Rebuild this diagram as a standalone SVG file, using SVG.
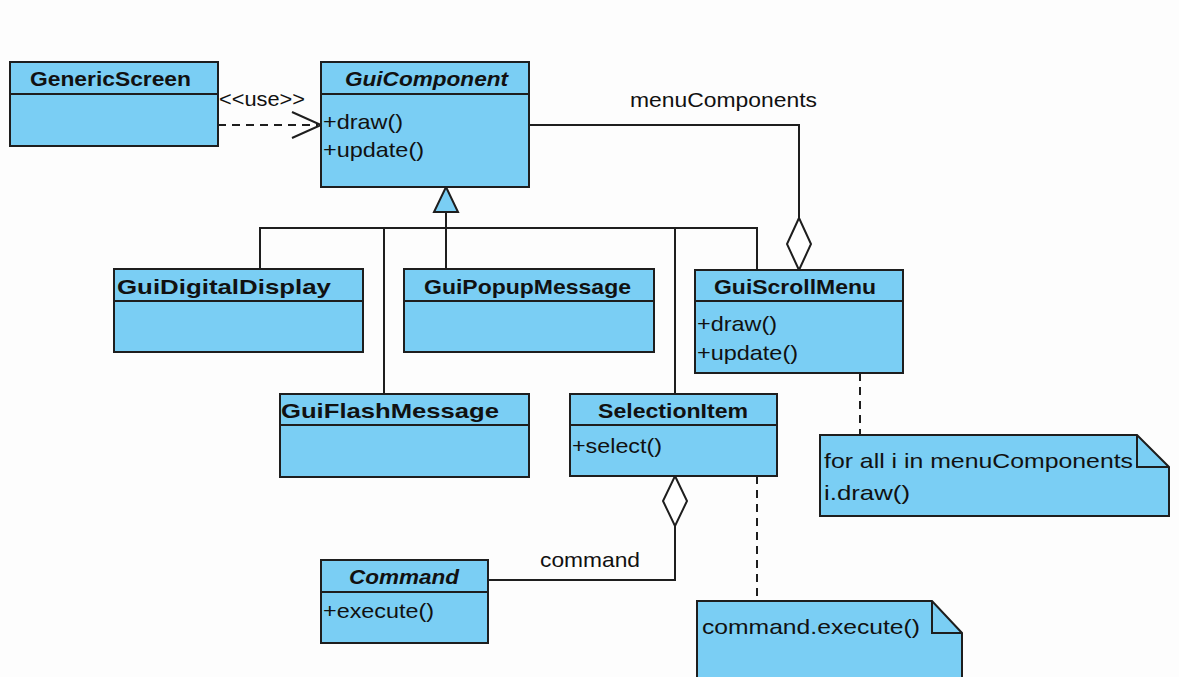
<svg xmlns="http://www.w3.org/2000/svg" width="1179" height="677" viewBox="0 0 1179 677">
<style>
.box{fill:#7acef4;stroke:#1e1e1e;stroke-width:2}
.ln{fill:none;stroke:#1e1e1e;stroke-width:2}
.dash{fill:none;stroke:#1e1e1e;stroke-width:2;stroke-dasharray:8 6}
.t{font-family:"Liberation Sans",Arial,sans-serif;font-size:21px;font-weight:bold;fill:#111}
.ti{font-family:"Liberation Sans",Arial,sans-serif;font-size:21px;font-weight:bold;font-style:italic;fill:#111}
.m{font-family:"Liberation Sans",Arial,sans-serif;font-size:21px;fill:#111}
.open{fill:#fff;stroke:#1e1e1e;stroke-width:2}
</style>
<rect width="1179" height="677" fill="#fdfdfd"/>
<g id="connectors">
  <path class="dash" d="M218 125 H318"/>
  <path class="ln" d="M292 112 L321 125 L292 138"/>
  <text class="m" x="219" y="106" font-size="18" textLength="86" lengthAdjust="spacingAndGlyphs">&lt;&lt;use&gt;&gt;</text>
  <path class="ln" d="M529 125 H799 V218"/>
  <polygon class="open" points="799,218 811,244 799,270 787,244"/>
  <text class="m" x="630" y="107" textLength="187" lengthAdjust="spacingAndGlyphs">menuComponents</text>
  <path class="ln" d="M446 212 V269"/>
  <polygon class="box" points="446,187 458,212 434,212"/>
  <path class="ln" d="M260 269 V228 H757 V270"/>
  <path class="ln" d="M384 228 V394"/>
  <path class="ln" d="M675 228 V394"/>
  <polygon class="open" points="675,476 687,501 675,526 663,501"/>
  <path class="ln" d="M675 526 V580 H488"/>
  <text class="m" x="540" y="567" textLength="100" lengthAdjust="spacingAndGlyphs">command</text>
  <path class="dash" d="M860 373 V435"/>
  <path class="dash" d="M757 476 V601"/>
</g>
<g id="GenericScreen">
  <rect class="box" x="10" y="62" width="208" height="84"/>
  <line class="ln" x1="10" y1="94" x2="218" y2="94"/>
  <text class="t" x="30" y="86" textLength="161" lengthAdjust="spacingAndGlyphs">GenericScreen</text>
</g>
<g id="GuiComponent">
  <rect class="box" x="321" y="62" width="208" height="125"/>
  <line class="ln" x1="321" y1="94" x2="529" y2="94"/>
  <text class="ti" x="345" y="86" textLength="163" lengthAdjust="spacingAndGlyphs">GuiComponent</text>
  <text class="m" x="323" y="129" textLength="80" lengthAdjust="spacingAndGlyphs">+draw()</text>
  <text class="m" x="323" y="157" textLength="101" lengthAdjust="spacingAndGlyphs">+update()</text>
</g>
<g id="GuiDigitalDisplay">
  <rect class="box" x="114" y="269" width="249" height="83"/>
  <line class="ln" x1="114" y1="301" x2="363" y2="301"/>
  <text class="t" x="117" y="294" textLength="214" lengthAdjust="spacingAndGlyphs">GuiDigitalDisplay</text>
</g>
<g id="GuiPopupMessage">
  <rect class="box" x="404" y="269" width="250" height="83"/>
  <line class="ln" x1="404" y1="301" x2="654" y2="301"/>
  <text class="t" x="424" y="294" textLength="207" lengthAdjust="spacingAndGlyphs">GuiPopupMessage</text>
</g>
<g id="GuiScrollMenu">
  <rect class="box" x="695" y="270" width="208" height="103"/>
  <line class="ln" x1="695" y1="301" x2="903" y2="301"/>
  <text class="t" x="714" y="294" textLength="162" lengthAdjust="spacingAndGlyphs">GuiScrollMenu</text>
  <text class="m" x="697" y="331" textLength="80" lengthAdjust="spacingAndGlyphs">+draw()</text>
  <text class="m" x="697" y="360" textLength="101" lengthAdjust="spacingAndGlyphs">+update()</text>
</g>
<g id="GuiFlashMessage">
  <rect class="box" x="280" y="394" width="249" height="83"/>
  <line class="ln" x1="280" y1="425" x2="529" y2="425"/>
  <text class="t" x="281" y="418" textLength="218" lengthAdjust="spacingAndGlyphs">GuiFlashMessage</text>
</g>
<g id="SelectionItem">
  <rect class="box" x="570" y="394" width="207" height="82"/>
  <line class="ln" x1="570" y1="425" x2="777" y2="425"/>
  <text class="t" x="598" y="418" textLength="150" lengthAdjust="spacingAndGlyphs">SelectionItem</text>
  <text class="m" x="572" y="453" textLength="90" lengthAdjust="spacingAndGlyphs">+select()</text>
</g>
<g id="Command">
  <rect class="box" x="321" y="560" width="167" height="83"/>
  <line class="ln" x1="321" y1="592" x2="488" y2="592"/>
  <text class="ti" x="349" y="584" textLength="110" lengthAdjust="spacingAndGlyphs">Command</text>
  <text class="m" x="323" y="618" textLength="111" lengthAdjust="spacingAndGlyphs">+execute()</text>
</g>
<g id="note1">
  <path class="box" d="M820 435 H1137 L1169 467 V516 H820 Z"/>
  <path class="ln" d="M1137 435 V467 H1169"/>
  <text class="m" x="824" y="468" textLength="309" lengthAdjust="spacingAndGlyphs">for all i in menuComponents</text>
  <text class="m" x="824" y="500" textLength="86" lengthAdjust="spacingAndGlyphs">i.draw()</text>
</g>
<g id="note2">
  <path class="box" d="M697 601 H932 L962 633 V680 H697 Z"/>
  <path class="ln" d="M932 601 V633 H962"/>
  <text class="m" x="702" y="634" textLength="218" lengthAdjust="spacingAndGlyphs">command.execute()</text>
</g>
</svg>
